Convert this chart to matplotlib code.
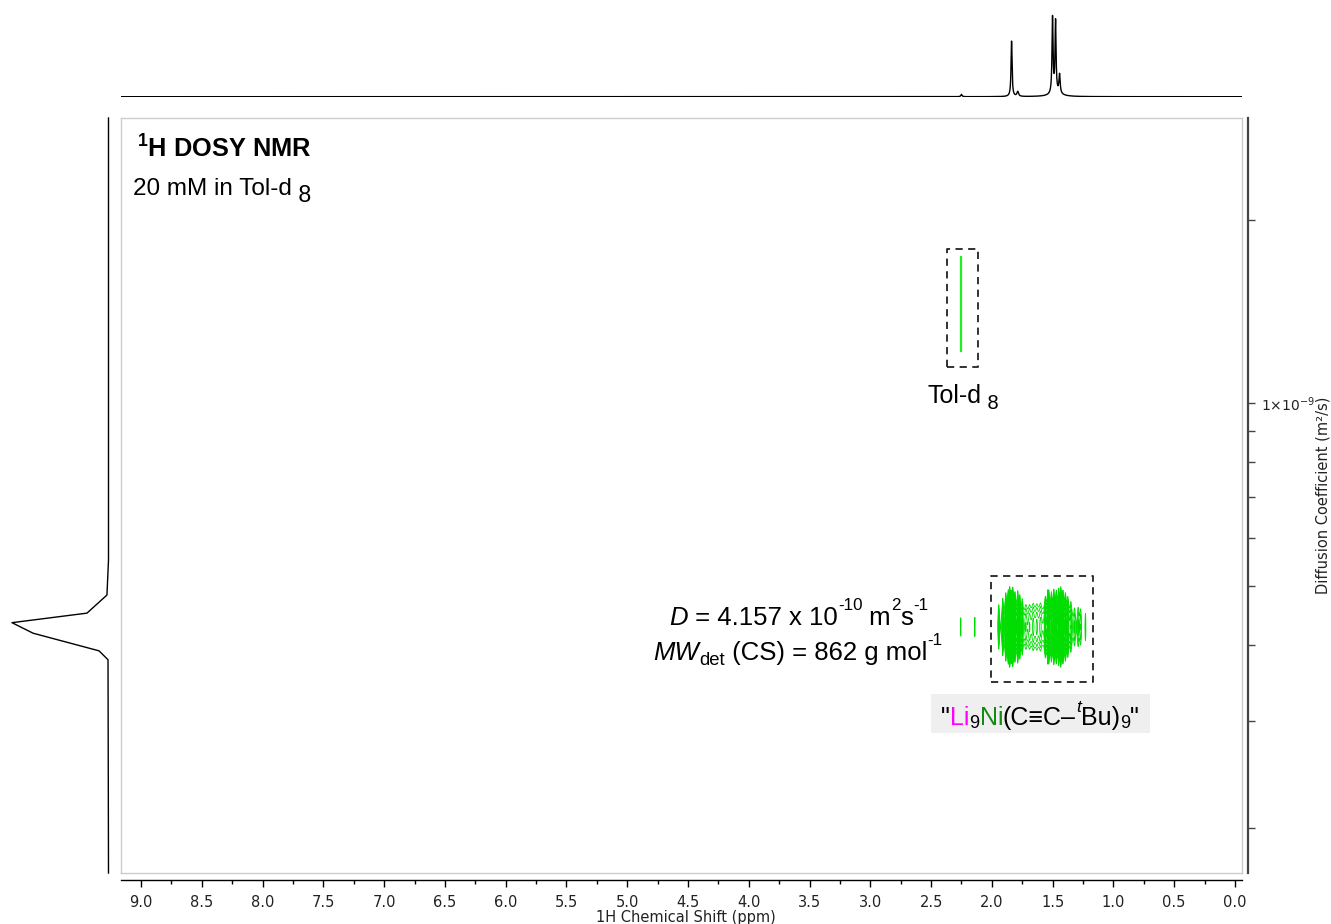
import numpy as np
import matplotlib
matplotlib.use("Agg")
import matplotlib.pyplot as plt
import matplotlib.transforms as mtransforms
from matplotlib.patches import Rectangle
from matplotlib.ticker import FixedLocator, NullFormatter, FuncFormatter

plt.rcParams["font.family"] = ["Liberation Sans", "DejaVu Sans"]
plt.rcParams["mathtext.fontset"] = "custom"
plt.rcParams["mathtext.rm"] = "Liberation Sans"
plt.rcParams["mathtext.it"] = "Liberation Sans:italic"
plt.rcParams["mathtext.bf"] = "Liberation Sans:bold"

# 1H projection (top): peak list, ppm / height / half width
h1_ppm = [2.250, 1.838, 1.787, 1.501, 1.476, 1.443, 1.470]
h1_height = [0.026, 0.640, 0.055, 0.880, 0.830, 0.220, 0.030]
h1_hwhm = [0.006, 0.005, 0.008, 0.005, 0.005, 0.006, 0.060]

# diffusion projection (left): trace points, D (m2/s) vs intensity
proj_D = [2.94e-9, 5.51e-10, 4.83e-10, 4.51e-10, 4.35e-10, 4.18e-10, 3.91e-10, 3.78e-10, 1.686e-10]
proj_int = [0.0, 0.0, 0.016, 0.223, 1.0, 0.782, 0.098, 0.005, 0.0]

# DOSY cross peaks of the aggregate (ppm / relative amplitude / half width)
dosy_D = 4.28e-10
dosy_logwidth = 0.0229
dosy_ppm = [2.256, 2.140,
            1.943, 1.910, 1.885, 1.865, 1.853, 1.840, 1.828, 1.810, 1.787, 1.770, 1.750,
            1.720, 1.690, 1.660, 1.630, 1.600, 1.640,
            1.560, 1.539, 1.531, 1.510, 1.490, 1.470, 1.450, 1.433, 1.415, 1.395, 1.375, 1.350,
            1.320, 1.290, 1.270, 1.230]
dosy_amp = [0.019, 0.019,
            0.05, 0.12, 0.30, 0.50, 1.00, 0.40, 0.90, 0.35, 0.45, 0.20, 0.10,
            0.035, 0.030, 0.035, 0.030, 0.040, 0.025,
            0.15, 0.50, 0.45, 0.35, 0.60, 0.50, 0.70, 1.00, 0.50, 0.30, 0.15, 0.07,
            0.030, 0.035, 0.030, 0.022]
dosy_hwhm = [0.004, 0.004,
             0.004, 0.003, 0.003, 0.003, 0.003, 0.003, 0.003, 0.003, 0.003, 0.003, 0.004,
             0.008, 0.008, 0.008, 0.008, 0.008, 0.090,
             0.004, 0.003, 0.003, 0.003, 0.003, 0.003, 0.003, 0.003, 0.003, 0.004, 0.004, 0.006,
             0.006, 0.006, 0.006, 0.004]

# solvent (Tol-d8) signal
tol_ppm = 2.256
tol_D = [1.738e-9, 1.217e-9]

x_ticks = [9.0, 8.5, 8.0, 7.5, 7.0, 6.5, 6.0, 5.5, 5.0, 4.5, 4.0, 3.5, 3.0, 2.5, 2.0, 1.5, 1.0, 0.5, 0.0]
d_minor = [2e-10, 3e-10, 4e-10, 5e-10, 6e-10, 7e-10, 8e-10, 9e-10, 2e-9]

W, H = 1331, 924
XLIM = (9.165, -0.058)
YLIM = (1.686e-10, 2.94e-9)


def lorentz_sum(x, pos, amp, hw):
    y = np.zeros_like(x)
    for p, a, w in zip(pos, amp, hw):
        y += a / (1 + ((x - p) / w) ** 2)
    return y


def box(x0, y0, x1, y1):
    return [x0 / W, 1 - y1 / H, (x1 - x0) / W, (y1 - y0) / H]


fig = plt.figure(figsize=(W / 100, H / 100), dpi=100)
pix = mtransforms.Affine2D().scale(1 / W, -1 / H).translate(0, 1) + fig.transFigure

# main 2D panel
ax = fig.add_axes(box(121, 118, 1242, 873))
ax.set_xlim(XLIM)
ax.set_yscale("log")
ax.set_ylim(YLIM)
ax.set_xticks([])
ax.yaxis.set_major_locator(FixedLocator([]))
ax.yaxis.set_minor_locator(FixedLocator([]))
for s in ax.spines.values():
    s.set_color("#cccccc")
    s.set_linewidth(1.0)

ppm_grid = np.linspace(2.45, 1.05, 3500)
logD_grid = np.linspace(-9.55, -9.2, 400)
S = lorentz_sum(ppm_grid, dosy_ppm, dosy_amp, dosy_hwhm)
G = np.exp(-0.5 * ((logD_grid - np.log10(dosy_D)) / dosy_logwidth) ** 2)
Z = G[:, None] * S[None, :]
PP, DD = np.meshgrid(ppm_grid, 10 ** logD_grid)
ax.contour(PP, DD, Z, levels=np.geomspace(0.016, 1.0, 11), colors="#00dd00", linewidths=0.6)

ax.plot([tol_ppm, tol_ppm], tol_D, color="#22ee22", lw=1.6)

dash = dict(color="#222222", lw=1.3, ls=(0, (4, 3)))
ax.plot([2.371, 2.116, 2.116, 2.371, 2.371], [1.146e-9, 1.146e-9, 1.792e-9, 1.792e-9, 1.146e-9], **dash)
ax.plot([2.009, 1.169, 1.169, 2.009, 2.009], [3.48e-10, 3.48e-10, 5.19e-10, 5.19e-10, 3.48e-10], **dash)

# top 1H projection
ax_top = fig.add_axes(box(121, 10, 1242, 96.7))
x_full = np.linspace(9.2, -0.1, 20000)
ax_top.plot(x_full, lorentz_sum(x_full, h1_ppm, h1_height, h1_hwhm), color="black", lw=1.0)
ax_top.set_xlim(XLIM)
ax_top.set_ylim(0, 1)
ax_top.axis("off")

# left diffusion projection
ax_left = fig.add_axes(box(12, 118, 108.5, 873))
ax_left.plot(proj_int, proj_D, color="black", lw=1.0, clip_on=False)
ax_left.set_yscale("log")
ax_left.set_ylim(YLIM)
ax_left.set_xlim(1, 0)
ax_left.axis("off")

# bottom chemical shift axis
ax_x = fig.add_axes(box(121, 879, 1242, 880))
ax_x.set_xlim(XLIM)
ax_x.set_yticks([])
for k in ["top", "left", "right"]:
    ax_x.spines[k].set_visible(False)
ax_x.spines["bottom"].set_linewidth(1.0)
ax_x.patch.set_alpha(0)
ax_x.xaxis.set_major_locator(FixedLocator(x_ticks))
ax_x.xaxis.set_minor_locator(FixedLocator(np.array(x_ticks[:-1]) - 0.25))
ax_x.xaxis.set_major_formatter(FuncFormatter(lambda v, p: f"{v:.1f}"))
ax_x.tick_params(axis="x", which="major", length=5, width=1, pad=6, labelsize=10.5,
                 labelfontfamily="DejaVu Sans", labelcolor="#222222")
ax_x.tick_params(axis="x", which="minor", length=3, width=1)
fig.text(686, 922, "1H Chemical Shift (ppm)", transform=pix, ha="center", va="baseline",
         fontsize=10.5, family="DejaVu Sans", color="#222222")

# right diffusion axis
ax_r = fig.add_axes(box(1246.5, 118, 1247.5, 873))
ax_r.set_yscale("log")
ax_r.set_ylim(YLIM)
ax_r.set_xticks([])
for k in ["top", "left", "bottom"]:
    ax_r.spines[k].set_visible(False)
ax_r.spines["right"].set_linewidth(1.6)
ax_r.spines["right"].set_color("#444444")
ax_r.patch.set_alpha(0)
ax_r.yaxis.tick_right()
ax_r.yaxis.set_major_locator(FixedLocator([1e-9]))
ax_r.yaxis.set_minor_locator(FixedLocator(d_minor))
ax_r.yaxis.set_minor_formatter(NullFormatter())
ax_r.yaxis.set_major_formatter(FuncFormatter(lambda v, p: "1×10$^{-9}$"))
ax_r.tick_params(axis="y", which="both", length=5, width=1, color="#444444", labelsize=10, pad=5,
                 labelfontfamily="DejaVu Sans", labelcolor="#222222")
for lab in ax_r.get_yticklabels():
    lab.set_math_fontfamily("dejavusans")
fig.text(1323, 495, "Diffusion Coefficient (m²/s)", transform=pix, rotation=90, ha="center",
         va="center", fontsize=10.5, family="DejaVu Sans", color="#222222")


def rich_text(x, y, parts, size, ha="left"):
    renderer = fig.canvas.get_renderer()
    widths = []
    for s, color, scale, dy, style in parts:
        t = fig.text(0, 0, s, fontsize=size * scale, style=style)
        widths.append(t.get_window_extent(renderer).width * 72 / fig.dpi)
        t.remove()
    off = {"left": 0, "center": -sum(widths) / 2, "right": -sum(widths)}[ha]
    for (s, color, scale, dy, style), w in zip(parts, widths):
        tr = mtransforms.offset_copy(pix, fig=fig, x=off, y=dy, units="points")
        fig.text(x, y, s, transform=tr, fontsize=size * scale, color=color, style=style, va="baseline")
        off += w


fig.text(137, 158, r"$^{\mathbf{1}}$H DOSY NMR", transform=pix, fontsize=18.3, fontweight="bold", va="baseline")
rich_text(133, 195, [("20 mM in Tol-d", "black", 1, 0, "normal"), (" 8", "black", 0.95, -5, "normal")], 17.5)
rich_text(928, 403, [("Tol-d", "black", 1, 0, "normal"), (" 8", "black", 0.8, -4, "normal")], 18)

rich_text(799, 625, [
    ("D", "black", 1, 0, "italic"),
    (" = 4.157 x 10", "black", 1, 0, "normal"),
    ("-10", "black", 0.66, 10.5, "normal"),
    (" m", "black", 1, 0, "normal"),
    ("2", "black", 0.66, 10.5, "normal"),
    ("s", "black", 1, 0, "normal"),
    ("-1", "black", 0.66, 10.5, "normal"),
], 18.5, ha="center")
rich_text(798, 660, [
    ("MW", "black", 1, 0, "italic"),
    ("det", "black", 0.72, -3.6, "normal"),
    (" (CS) = 862 g mol", "black", 1, 0, "normal"),
    ("-1", "black", 0.66, 10.5, "normal"),
], 18.5, ha="center")

fig.patches.append(Rectangle((931, 694), 219, 39, transform=pix, facecolor="#efefef", edgecolor="none", zorder=0))
rich_text(1040, 725, [
    ('"', "black", 1, 0, "normal"),
    ("Li", "#ff00ff", 1, 0, "normal"),
    ("9", "black", 0.72, -2.5, "normal"),
    ("Ni", "#138a13", 1, 0, "normal"),
    ("(C≡C–", "black", 1, 0, "normal"),
    ("t", "black", 0.7, 9, "italic"),
    ("Bu)", "black", 1, 0, "normal"),
    ("9", "black", 0.72, -2.5, "normal"),
    ('"', "black", 1, 0, "normal"),
], 18, ha="center")

fig.savefig("out.png", dpi=100)
